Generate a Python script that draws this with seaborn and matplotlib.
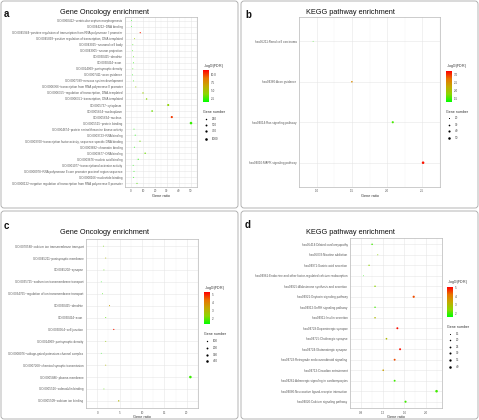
import numpy as np
import pandas as pd
import matplotlib
matplotlib.use("Agg")
import matplotlib.pyplot as plt
import seaborn as sns
from matplotlib.colors import LinearSegmentedColormap, Normalize
from matplotlib.patches import FancyBboxPatch
import matplotlib.colorbar as mcolorbar

# ---------------- data ----------------
a_terms = [
    "GO:0060412~ventricular septum morphogenesis",
    "GO:0044212~DNA binding",
    "GO:0045944~positive regulation of transcription from RNA polymerase II promoter",
    "GO:0045893~positive regulation of transcription, DNA-templated",
    "GO:0043025~neuronal cell body",
    "GO:0043005~neuron projection",
    "GO:0030425~dendrite",
    "GO:0030424~axon",
    "GO:0014069~postsynaptic density",
    "GO:0007411~axon guidance",
    "GO:0007399~nervous system development",
    "GO:0006366~transcription from RNA polymerase II promoter",
    "GO:0006355~regulation of transcription, DNA-templated",
    "GO:0006351~transcription, DNA-templated",
    "GO:0005737~cytoplasm",
    "GO:0005654~nucleoplasm",
    "GO:0005634~nucleus",
    "GO:0005515~protein binding",
    "GO:0004674~protein serine/threonine kinase activity",
    "GO:0003723~RNA binding",
    "GO:0003700~transcription factor activity, sequence-specific DNA binding",
    "GO:0003682~chromatin binding",
    "GO:0003677~DNA binding",
    "GO:0003676~nucleic acid binding",
    "GO:0001077~transcriptional activator activity",
    "GO:0000978~RNA polymerase II core promoter proximal region sequence",
    "GO:0000166~nucleotide binding",
    "GO:0000122~negative regulation of transcription from RNA polymerase II promoter",
]
a_ratio = [0.4, 0.4, 7.7, 3.0, 1.5, 1.2, 2.0, 2.0, 1.5, 1.2, 2.0, 4.0, 10.0, 13.0,
           31.0, 17.6, 34.0, 50.0, 2.5, 3.5, 7.5, 2.8, 11.8, 6.0, 1.8, 2.5, 2.2, 5.0]
a_genes = [8, 8, 155, 60, 30, 24, 40, 40, 30, 24, 40, 80, 200, 260,
           620, 350, 680, 1000, 50, 70, 150, 56, 236, 120, 36, 50, 44, 100]
a_fdr = [1.8, 1.8, 10.5, 4.5, 2.5, 2.3, 3.0, 2.2, 2.5, 2.0, 2.5, 4.5, 4.5, 4.0,
         4.0, 3.5, 10.0, 2.5, 2.0, 2.0, 3.5, 2.0, 3.5, 2.2, 2.0, 2.0, 2.0, 3.0]

b_terms = [
    "hsa05211:Renal cell carcinoma",
    "hsa04360:Axon guidance",
    "hsa04014:Ras signaling pathway",
    "hsa04010:MAPK signaling pathway",
]
b_ratio = [0.95, 1.5, 2.08, 2.51]
b_genes = [18, 28, 40, 52]
b_fdr = [1.4, 2.5, 1.5, 3.1]

c_terms = [
    "GO:0070588~calcium ion transmembrane transport",
    "GO:0045211~postsynaptic membrane",
    "GO:0045202~synapse",
    "GO:0035725~sodium ion transmembrane transport",
    "GO:0034765~regulation of ion transmembrane transport",
    "GO:0030425~dendrite",
    "GO:0030424~axon",
    "GO:0030054~cell junction",
    "GO:0014069~postsynaptic density",
    "GO:0008076~voltage-gated potassium channel complex",
    "GO:0007268~chemical synaptic transmission",
    "GO:0005886~plasma membrane",
    "GO:0005516~calmodulin binding",
    "GO:0005509~calcium ion binding",
]
c_ratio = [1.4, 1.9, 1.5, 0.9, 1.2, 2.75, 1.9, 3.7, 1.9, 0.9, 1.9, 20.8, 1.5, 4.8]
c_genes = [28, 38, 30, 18, 24, 55, 38, 74, 38, 18, 38, 416, 30, 96]
c_fdr = [2.2, 3.0, 2.0, 1.5, 1.8, 3.5, 2.0, 5.0, 2.5, 1.5, 3.0, 1.8, 2.0, 3.0]

d_terms = [
    "hsa05414:Dilated cardiomyopathy",
    "hsa05033:Nicotine addiction",
    "hsa04971:Gastric acid secretion",
    "hsa04961:Endocrine and other factor-regulated calcium reabsorption",
    "hsa04925:Aldosterone synthesis and secretion",
    "hsa04921:Oxytocin signaling pathway",
    "hsa04912:GnRH signaling pathway",
    "hsa04911:Insulin secretion",
    "hsa04728:Dopaminergic synapse",
    "hsa04725:Cholinergic synapse",
    "hsa04724:Glutamatergic synapse",
    "hsa04723:Retrograde endocannabinoid signaling",
    "hsa04713:Circadian entrainment",
    "hsa04261:Adrenergic signaling in cardiomyocytes",
    "hsa04080:Neuroactive ligand-receptor interaction",
    "hsa04020:Calcium signaling pathway",
]
d_ratio = [1.006, 1.11, 0.95, 0.85, 1.06, 1.77, 1.06, 1.06, 1.47, 1.27, 1.52, 1.42,
           1.21, 1.42, 2.19, 1.62]
d_genes = [20, 14, 18, 12, 20, 33, 19, 20, 28, 23, 28, 27, 22, 27, 42, 31]
d_fdr = [2.0, 2.5, 2.5, 1.8, 2.5, 4.5, 2.0, 3.0, 5.0, 3.0, 5.0, 4.5, 3.5, 2.0, 2.0, 2.0]

a_size_legend = [250, 500, 750, 1000]
b_size_legend = [20, 30, 40, 50]
c_size_legend = [100, 200, 300, 400]
d_size_legend = [15, 20, 25, 30, 35, 40]

a_cticks = [2.5, 5.0, 7.5, 10.0]
b_cticks = [1.5, 2.0, 2.5, 3.0]
c_cticks = [2, 3, 4, 5]
d_cticks = [2, 3, 4, 5]

# ---------------- style ----------------
sns.set_theme(style="whitegrid")
plt.rcParams['font.family'] = ['Liberation Sans', 'DejaVu Sans']

W, H = 479, 420
fig = plt.figure(figsize=(4.79, 4.2), dpi=100)
fig.patch.set_facecolor("white")

cmap = LinearSegmentedColormap.from_list(
    "gr", ["#00FF00", "#8CD600", "#C4A900", "#E87400", "#FF0000"])
SIZES = (0.3, 3.5)


def px_rect(x0, y0, x1, y1):
    return [x0 / W, 1 - y1 / H, (x1 - x0) / W, (y1 - y0) / H]


ov = fig.add_axes([0, 0, 1, 1], zorder=10)
ov.set_xlim(0, W)
ov.set_ylim(H, 0)
ov.axis("off")
ov.patch.set_alpha(0)


def size_of(v, snorm):
    lo, hi = snorm
    t = (v - lo) / (hi - lo)
    return SIZES[0] + np.clip(t, 0, 1) * (SIZES[1] - SIZES[0])


def panel(terms, ratio, genes, fdr, rect, xlim, xticks, xfmt, cnorm, cticks, cfmt,
          snorm, slegend, title, title_xy, letter, letter_xy, cbar_rect,
          ltitle_y, legend_ys):
    ax = fig.add_axes(px_rect(*rect))
    df = pd.DataFrame({"term": terms, "ratio": ratio, "genes": genes, "fdr": fdr})
    sns.scatterplot(data=df, x="ratio", y="term", hue="fdr", size="genes",
                    palette=cmap, hue_norm=Normalize(*cnorm), sizes=SIZES,
                    size_norm=Normalize(*snorm), legend=False, ax=ax,
                    linewidth=0, zorder=3)
    n = len(terms)
    ax.set_ylim(n - 0.4, -0.6)
    ax.set_xlim(*xlim)
    ax.set_xticks(xticks)
    ax.set_xticklabels([xfmt.format(t) for t in xticks])
    ax.set_xticks([(xticks[i] + xticks[i + 1]) / 2 for i in range(len(xticks) - 1)]
                  + [xticks[0] - (xticks[1] - xticks[0]) / 2,
                     xticks[-1] + (xticks[1] - xticks[0]) / 2], minor=True)
    ax.set_facecolor("white")
    ax.grid(True, which="major", color="#E6E6E6", linewidth=0.4)
    ax.grid(True, which="minor", axis="x", color="#F2F2F2", linewidth=0.3)
    for s in ax.spines.values():
        s.set_color("#B8B8B8")
        s.set_linewidth(0.5)
    ax.tick_params(axis="both", which="major", labelsize=2.2, length=1.2, width=0.3,
                   color="#666666", labelcolor="#5A5A5A", pad=0.6)
    ax.tick_params(axis="both", which="minor", length=0)
    ax.set_xlabel("Gene ratio", fontsize=2.8, labelpad=0.6, color="#333333")
    ax.set_ylabel("")

    # title and letter
    ov.text(title_xy[0], title_xy[1], title, ha="center", va="center",
            fontsize=5.3, color="#111111")
    ov.text(letter_xy[0], letter_xy[1], letter, ha="left", va="center",
            fontsize=7, fontweight="bold", color="#111111")

    # colorbar
    cax = fig.add_axes(px_rect(*cbar_rect))
    cb = mcolorbar.ColorbarBase(cax, cmap=cmap, norm=Normalize(*cnorm),
                                ticks=cticks)
    cb.outline.set_visible(False)
    cb.set_ticklabels([cfmt.format(t) for t in cticks])
    cax.tick_params(labelsize=2.2, length=0, pad=1.2, labelcolor="#444444")
    ov.text(cbar_rect[0], cbar_rect[1] - 4.5, r"-log$_{10}$(FDR)", ha="left",
            va="center", fontsize=2.6, color="#333333")

    # size legend
    ov.text(cbar_rect[0], ltitle_y, "Gene number", ha="left", va="center",
            fontsize=2.6, color="#333333")
    for v, yy in zip(slegend, legend_ys):
        ov.scatter([cbar_rect[0] + 3], [yy], s=size_of(v, snorm), color="black",
                   linewidths=0)
        ov.text(cbar_rect[0] + 9, yy, str(v), ha="left", va="center",
                fontsize=2.2, color="#444444")
    return ax


panel(a_terms, a_ratio, a_genes, a_fdr, (125, 17, 197, 187), (-2.3, 53),
      [0, 10, 20, 30, 40, 50], "{:g}", (1.6, 11.2), a_cticks, "{:.1f}",
      (8, 1000), a_size_legend, "Gene Oncology enrichment", (105, 12), "a",
      (4, 14), (203, 70, 209, 102), 112, [119, 125, 131, 139])

panel(b_terms, b_ratio, b_genes, b_fdr, (299, 17, 440, 187), (0.854, 2.61),
      [1.0, 1.5, 2.0, 2.5], "{:.1f}", (1.25, 3.19), b_cticks, "{:.1f}",
      (18, 52), b_size_legend, "KEGG pathway enrichment", (350, 12), "b",
      (245, 15), (446, 71, 452, 102), 112, [118, 125, 131, 138])

panel(c_terms, c_ratio, c_genes, c_fdr, (86, 239, 198, 408), (-0.2, 22.3),
      [0, 5, 10, 15, 20], "{:g}", (1.4, 5.24), c_cticks, "{:g}",
      (18, 416), c_size_legend, "Gene Oncology enrichment", (105, 233), "c",
      (4, 226), (204, 292, 210, 324), 334, [341, 348, 355, 361])

panel(d_terms, d_ratio, d_genes, d_fdr, (350, 238, 442, 408), (0.71, 2.29),
      [0.8, 1.2, 1.6, 2.0], "{:.1f}", (1.6, 5.1), d_cticks, "{:g}",
      (12, 42), d_size_legend, "KEGG pathway enrichment", (350, 233), "d",
      (245, 225), (447, 287, 453, 317), 327, [334, 340, 347, 353, 360, 367])

# panel frames
for (x0, y0, x1, y1) in [(1, 1, 238, 208), (241, 1, 478, 208),
                         (1, 211, 238, 419), (241, 211, 478, 419)]:
    ov.add_patch(FancyBboxPatch((x0, y0), x1 - x0, y1 - y0,
                                boxstyle="round,pad=0,rounding_size=3",
                                fill=False, edgecolor="#A8A8A8", linewidth=0.6))

fig.savefig("out.png", dpi=100, facecolor="white")
